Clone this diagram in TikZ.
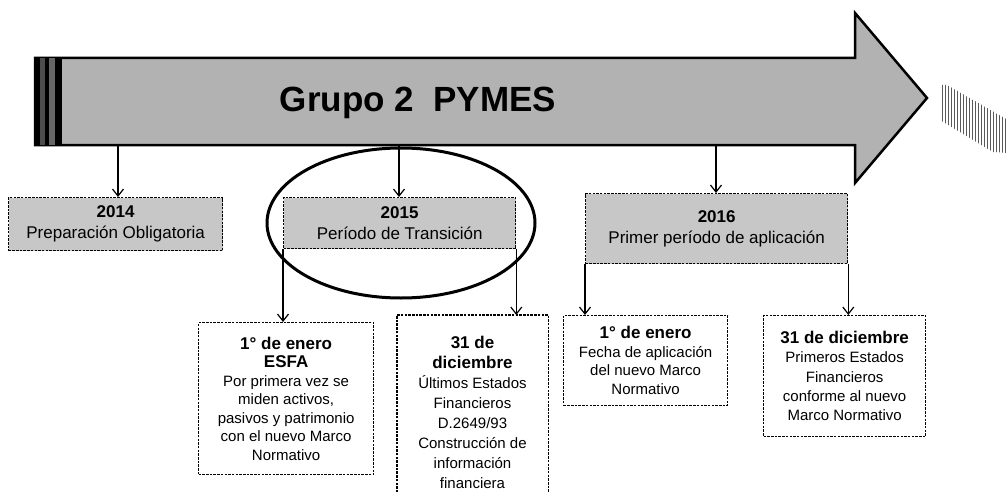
\documentclass[tikz,border=0pt]{standalone}
\usepackage{fontspec}
\setmainfont{Liberation Sans}
\usetikzlibrary{arrows.meta,shapes.geometric,patterns}
\begin{document}
\begin{tikzpicture}[x=1pt,y=-1pt,
  box/.style={draw=black, line width=1.3pt, dash pattern=on 2.5pt off 1.2pt, rectangle, inner sep=0pt, anchor=north west, align=center},
  topbox/.style={box, fill=black!22, font=\fontsize{17}{21}\selectfont},
  lowbox/.style={box, fill=white, font=\fontsize{15}{18.5}\selectfont},
  conn/.style={draw=black, line width=1.4pt, -{Straight Barb[length=7pt,width=11pt,line width=1.2pt]}},
  bigarrow/.style={draw=black, line width=2.5pt, fill=black!30, line join=miter},
  ring/.style={ellipse, draw=black, line width=3pt, inner sep=0pt}]
\useasboundingbox (0,0) rectangle (1008,492);

% big arrow
\draw[bigarrow] (35,58) -- (855,58) -- (855,13) -- (927,98) -- (855,183) -- (855,145) -- (35,145) -- cycle;
\fill[black] (35,58) rectangle (40,145);
\fill[black!70] (40,58) rectangle (45,145);
\fill[black] (45,58) rectangle (49,145);
\fill[black!60] (49,58) rectangle (55,145);
\fill[black] (55,58) rectangle (62,145);
\node[anchor=base, font=\fontsize{35}{40}\selectfont\bfseries] (title) at (418,112) {Grupo 2\ \ PYMES};
\coordinate (s14) at (118,145);
\coordinate (s15) at (399,145);
\coordinate (s16) at (716,145);

% scan blob right of the arrow
\fill[pattern=vertical lines, pattern color=black!65] (940,85) -- (947,85) -- (1008,120) -- (1008,153) -- (993,152) -- (940,120) -- cycle;

% year boxes
\node[topbox, minimum width=214pt, minimum height=53pt] (b14) at (8,197)
  {\textbf{2014}\\Preparación Obligatoria};
\node[topbox, minimum width=232pt, minimum height=51pt] (b15) at (283,197)
  {\textbf{2015}\\Período de Transición};
\node[topbox, minimum width=262pt, minimum height=70pt] (b16) at (585,193)
  {\textbf{2016}\\Primer período de aplicación};

% lower boxes
\node[lowbox, minimum width=175pt, minimum height=152pt] (e1) at (198,322)
  {{\fontsize{17}{18}\selectfont\bfseries 1° de enero}\\{\fontsize{17}{18}\selectfont\bfseries ESFA}\\Por primera vez se\\miden activos,\\pasivos y patrimonio\\con el nuevo Marco\\Normativo};
\node[rectangle, inner sep=0pt, anchor=north west, minimum width=151pt, minimum height=177pt] (d1) at (397,315) {};
\draw[box] (d1.south west) -- (d1.north west) -- (d1.north east) -- (d1.south east);
\node[align=center, font=\fontsize{15}{20}\selectfont] (d1t) at (472.5,412)
  {{\fontsize{17}{20}\selectfont\bfseries 31 de}\\{\fontsize{17}{20}\selectfont\bfseries diciembre}\\Últimos Estados\\Financieros\\D.2649/93\\Construcción de\\información\\financiera};
\node[lowbox, minimum width=164pt, minimum height=90pt] (f1) at (563,315)
  {{\fontsize{17}{18.5}\selectfont\bfseries 1° de enero}\\Fecha de aplicación\\del nuevo Marco\\Normativo};
\node[lowbox, minimum width=162pt, minimum height=121pt, font=\fontsize{15}{19.3}\selectfont] (f2) at (763,315)
  {{\fontsize{17}{19.3}\selectfont\bfseries 31 de diciembre}\\Primeros Estados\\Financieros\\conforme al nuevo\\Marco Normativo};

% highlight ellipse
\node[ring, minimum width=268pt, minimum height=150pt] (ell) at (401,223) {};

% connectors
\draw[conn] (s14) -- (s14 |- b14.north);
\draw[conn] (s15) -- (s15 |- b15.north);
\draw[conn] (s16) -- (s16 |- b16.north);
\draw[conn] (b15.south west) -- (b15.south west |- e1.north);
\draw[conn] (b15.south east) -- (b15.south east |- d1.north);
\draw[conn] (b16.south west) -- (b16.south west |- f1.north);
\draw[conn] (b16.south east) -- (b16.south east |- f2.north);
\end{tikzpicture}
\end{document}
